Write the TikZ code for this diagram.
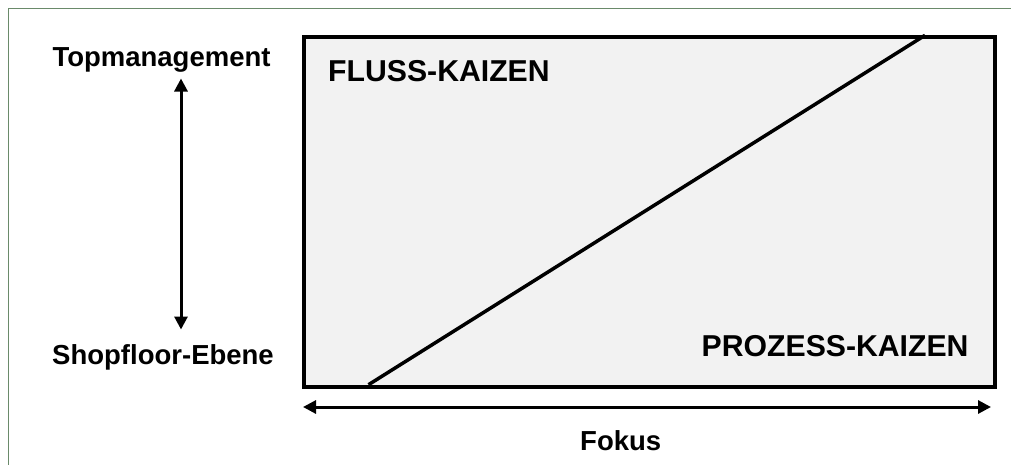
\documentclass[tikz,border=0pt]{standalone}
\usepackage{fontspec}
\setmainfont{Liberation Sans}
\usetikzlibrary{arrows.meta}
\definecolor{framegreen}{HTML}{6A8A6A}
\definecolor{boxfill}{HTML}{F2F2F2}
\tikzset{
  lbl/.style={font=\bfseries\fontsize{27.5}{30}\selectfont, inner sep=0pt, text=black},
  biglbl/.style={font=\bfseries\fontsize{30.2}{33}\selectfont, inner sep=0pt, text=black},
  dblarrow/.style={line width=3pt, {Triangle[length=13pt,width=13pt]}-{Triangle[length=13pt,width=13pt]}},
  mainbox/.style={draw=black, fill=boxfill, line width=4pt, inner sep=0pt},
  frame/.style={draw=framegreen, line width=1pt}
}
\begin{document}
\begin{tikzpicture}[x=1pt,y=-1pt]
\useasboundingbox (0,0) rectangle (1011,464);
\fill[white] (0,0) rectangle (1011,464);
% outer frame (only left and top visible)
\draw[frame] (8.5,470) -- (8.5,8.5) -- (1020,8.5);
% main box
\node[mainbox, minimum width=690.5pt, minimum height=349.4pt, anchor=north west] (box) at (302,35.3) {};
\coordinate (dlow) at (368.5,384.7);
\coordinate (dhigh) at (925,35.3);
\draw[line width=3.5pt] (dlow) -- (dhigh);
% labels
\node[lbl, anchor=base] (top) at (161.5,66.8) {Topmanagement};
\node[lbl, anchor=base] (shop) at (163,364) {Shopfloor-Ebene};
\node[biglbl, anchor=base west] (fluss) at (328,81.8) {FLUSS-KAIZEN};
\node[biglbl, anchor=base west] (proz) at (701.5,356.5) {PROZESS-KAIZEN};
\node[lbl, anchor=base] (fokus) at (620.7,450) {Fokus};
% arrows
\coordinate (vt) at (181,78.5);
\coordinate (vb) at (181,329.5);
\draw[dblarrow] (vt) -- (vb);
\coordinate (hl) at (303,407);
\coordinate (hr) at (991,407);
\draw[dblarrow] (hl) -- (hr);
\end{tikzpicture}
\end{document}
